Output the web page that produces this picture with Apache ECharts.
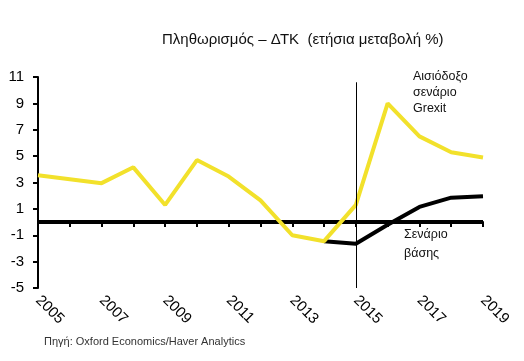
<!DOCTYPE html>
<html><head><meta charset="utf-8">
<script src="https://cdn.jsdelivr.net/npm/echarts@6/dist/echarts.min.js"></script>
<style>html,body{margin:0;padding:0;background:#fff}#c{width:524px;height:361px}</style>
</head><body><div id="c"></div>
<script>
const years = ['2005','2006','2007','2008','2009','2010','2011','2012','2013','2014','2015','2016','2017','2018','2019'];
const grexit = [3.55,3.25,2.95,4.15,1.3,4.7,3.45,1.65,-1.0,-1.45,1.3,9.0,6.5,5.3,4.9];
const baseline = [null,null,null,null,null,null,null,null,null,-1.45,-1.65,-0.2,1.15,1.85,1.95];
const zeroLine = [0,0,0,0,0,0,0,0,0,0,0,0,0,0,0];
const yTicks = {min:-5, max:11, interval:2};
const FONT = 'Liberation Sans';
const chart = echarts.init(document.getElementById('c'));
chart.setOption({
  animation:false,
  backgroundColor:'#fff',
  textStyle:{fontFamily:FONT},
  grid:{left:38,right:41,top:77,bottom:73},
  title:{text:'Πληθωρισμός – ΔΤΚ  (ετήσια μεταβολή %)',left:157,top:27,
    textStyle:{fontFamily:FONT,fontSize:15,fontWeight:'normal',color:'#111'}},
  graphic:[
    {type:'text',left:413,top:69,style:{text:'Αισιόδοξο\nσενάριο\nGrexit',font:'12.5px Liberation Sans',lineHeight:16,fill:'#111'}},
    {type:'text',left:404,top:225,style:{text:'Σενάριο\nβάσης',font:'12.5px Liberation Sans',lineHeight:19,fill:'#111'}},
    {type:'text',left:44,top:336,style:{text:'Πηγή: Oxford Economics/Haver Analytics',font:'11px Liberation Sans',fill:'#333'}}
  ],
  xAxis:{type:'category',data:years,boundaryGap:false,
    axisLine:{lineStyle:{color:'#000',width:2}},
    axisTick:{interval:0,length:5,lineStyle:{color:'#000',width:2}},
    axisLabel:{interval:1,rotate:-45,fontSize:15,color:'#000',fontFamily:FONT,margin:10},
    splitLine:{show:false}},
  yAxis:{type:'value',min:yTicks.min,max:yTicks.max,interval:yTicks.interval,
    axisLine:{show:true,lineStyle:{color:'#000',width:2}},
    axisTick:{show:true,length:5,lineStyle:{color:'#000',width:2}},
    axisLabel:{fontSize:15,color:'#000',fontFamily:FONT,margin:14},
    splitLine:{show:false}},
  series:[
    {type:'line',data:zeroLine,symbol:'none',lineStyle:{color:'#000',width:4},z:1},
    {type:'line',data:baseline,symbol:'none',lineStyle:{color:'#000',width:4},z:2},
    {type:'line',data:grexit,symbol:'none',lineStyle:{color:'#F2E12B',width:4},z:3,
      markLine:{symbol:'none',silent:true,label:{show:false},lineStyle:{color:'#000',width:1,type:'solid'},
        data:[[{coord:['2015',10.6]},{coord:['2015',-5]}]]}}
  ]
});
</script></body></html>
